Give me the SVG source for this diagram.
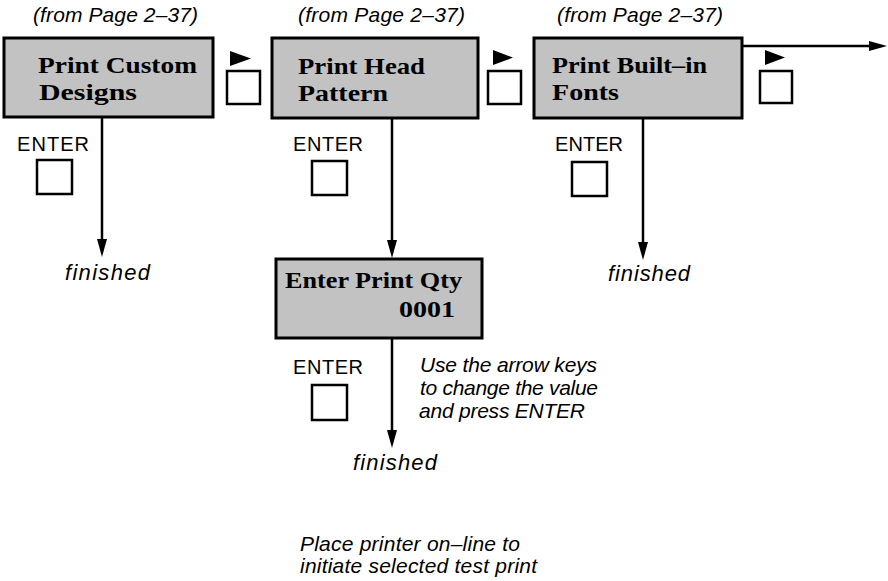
<svg xmlns="http://www.w3.org/2000/svg" width="888" height="581" viewBox="0 0 888 581">
<style>
.box{fill:#c2c2c2;stroke:#000;stroke-width:3}
.key{fill:#fff;stroke:#000;stroke-width:2.5}
.tri{fill:#000}
.bt{font-family:"Liberation Serif",serif;font-weight:bold;font-size:23px;fill:#000}
.it{font-family:"Liberation Sans",Arial,sans-serif;font-style:italic;font-size:21px;fill:#000}
.fin{font-family:"Liberation Sans",Arial,sans-serif;font-style:italic;font-size:22px;fill:#000}
.en{font-family:"Liberation Sans",Arial,sans-serif;font-size:20px;fill:#000}
.ln{stroke:#000;stroke-width:2.5;fill:none}
</style>
<defs>
<marker id="ah" markerUnits="userSpaceOnUse" markerWidth="20" markerHeight="12" refX="10" refY="5" orient="auto">
<path d="M0,0 L18,5 L0,10 z" fill="#000"/>
</marker>
</defs>
<g id="titles">
<text class="it" x="33" y="22" textLength="165" lengthAdjust="spacing">(from Page 2–37)</text>
<text class="it" x="298" y="22" textLength="167" lengthAdjust="spacing">(from Page 2–37)</text>
<text class="it" x="557" y="22" textLength="166" lengthAdjust="spacing">(from Page 2–37)</text>
</g>
<g id="connectors">
<line class="ln" x1="102" y1="118" x2="102" y2="249" marker-end="url(#ah)"/>
<line class="ln" x1="392" y1="118" x2="392" y2="250" marker-end="url(#ah)"/>
<line class="ln" x1="643" y1="118" x2="643" y2="252" marker-end="url(#ah)"/>
<line class="ln" x1="392" y1="338" x2="392" y2="440" marker-end="url(#ah)"/>
<line class="ln" x1="742" y1="46" x2="879" y2="46" marker-end="url(#ah)"/>
</g>
<g id="node-custom">
<rect class="box" x="4" y="38" width="209" height="79"/>
<text class="bt" x="38" y="73" textLength="159" lengthAdjust="spacingAndGlyphs">Print Custom</text>
<text class="bt" x="39" y="100" textLength="98" lengthAdjust="spacingAndGlyphs">Designs</text>
</g>
<g id="node-head">
<rect class="box" x="272" y="38" width="206" height="80"/>
<text class="bt" x="298" y="74" textLength="127" lengthAdjust="spacingAndGlyphs">Print Head</text>
<text class="bt" x="298" y="101" textLength="90" lengthAdjust="spacingAndGlyphs">Pattern</text>
</g>
<g id="node-fonts">
<rect class="box" x="534" y="38" width="208" height="80"/>
<text class="bt" x="552" y="73" textLength="155" lengthAdjust="spacingAndGlyphs">Print Built–in</text>
<text class="bt" x="552" y="100" textLength="67" lengthAdjust="spacingAndGlyphs">Fonts</text>
</g>
<g id="node-qty">
<rect class="box" x="276" y="259" width="206" height="79"/>
<text class="bt" x="285" y="288" textLength="177" lengthAdjust="spacingAndGlyphs">Enter Print Qty</text>
<text class="bt" x="455" y="317" text-anchor="end" textLength="56" lengthAdjust="spacingAndGlyphs">0001</text>
</g>
<g id="next-keys">
<path class="tri" d="M230,51 L251,58.5 L230,66 z"/>
<rect class="key" x="227" y="71" width="33" height="33"/>
<path class="tri" d="M493,50 L513,57.5 L493,65 z"/>
<rect class="key" x="488" y="71" width="33" height="33"/>
<path class="tri" d="M765,50 L785,57.5 L765,65 z"/>
<rect class="key" x="760" y="71" width="32" height="32"/>
</g>
<g id="enter-keys">
<text class="en" x="53" y="151" text-anchor="middle" textLength="72" lengthAdjust="spacing">ENTER</text>
<rect class="key" x="37" y="160" width="35" height="34"/>
<text class="en" x="328" y="151" text-anchor="middle" textLength="70" lengthAdjust="spacing">ENTER</text>
<rect class="key" x="312" y="161" width="35" height="34"/>
<text class="en" x="589" y="151" text-anchor="middle" textLength="68" lengthAdjust="spacing">ENTER</text>
<rect class="key" x="572" y="162" width="35" height="34"/>
<text class="en" x="328" y="374" text-anchor="middle" textLength="70" lengthAdjust="spacing">ENTER</text>
<rect class="key" x="312" y="385" width="35" height="35"/>
</g>
<g id="notes">
<text class="fin" x="65" y="280" textLength="85" lengthAdjust="spacing">finished</text>
<text class="fin" x="608" y="281" textLength="82" lengthAdjust="spacing">finished</text>
<text class="fin" x="353" y="470" textLength="84" lengthAdjust="spacing">finished</text>
<text class="it" x="420" y="372" textLength="177" lengthAdjust="spacing">Use the arrow keys</text>
<text class="it" x="420" y="395" textLength="178" lengthAdjust="spacing">to change the value</text>
<text class="it" x="419" y="418" textLength="166" lengthAdjust="spacing">and press ENTER</text>
<text class="it" x="300" y="551" textLength="220" lengthAdjust="spacing">Place printer on–line to</text>
<text class="it" x="300" y="573" textLength="237" lengthAdjust="spacing">initiate selected test print</text>
</g>
</svg>
